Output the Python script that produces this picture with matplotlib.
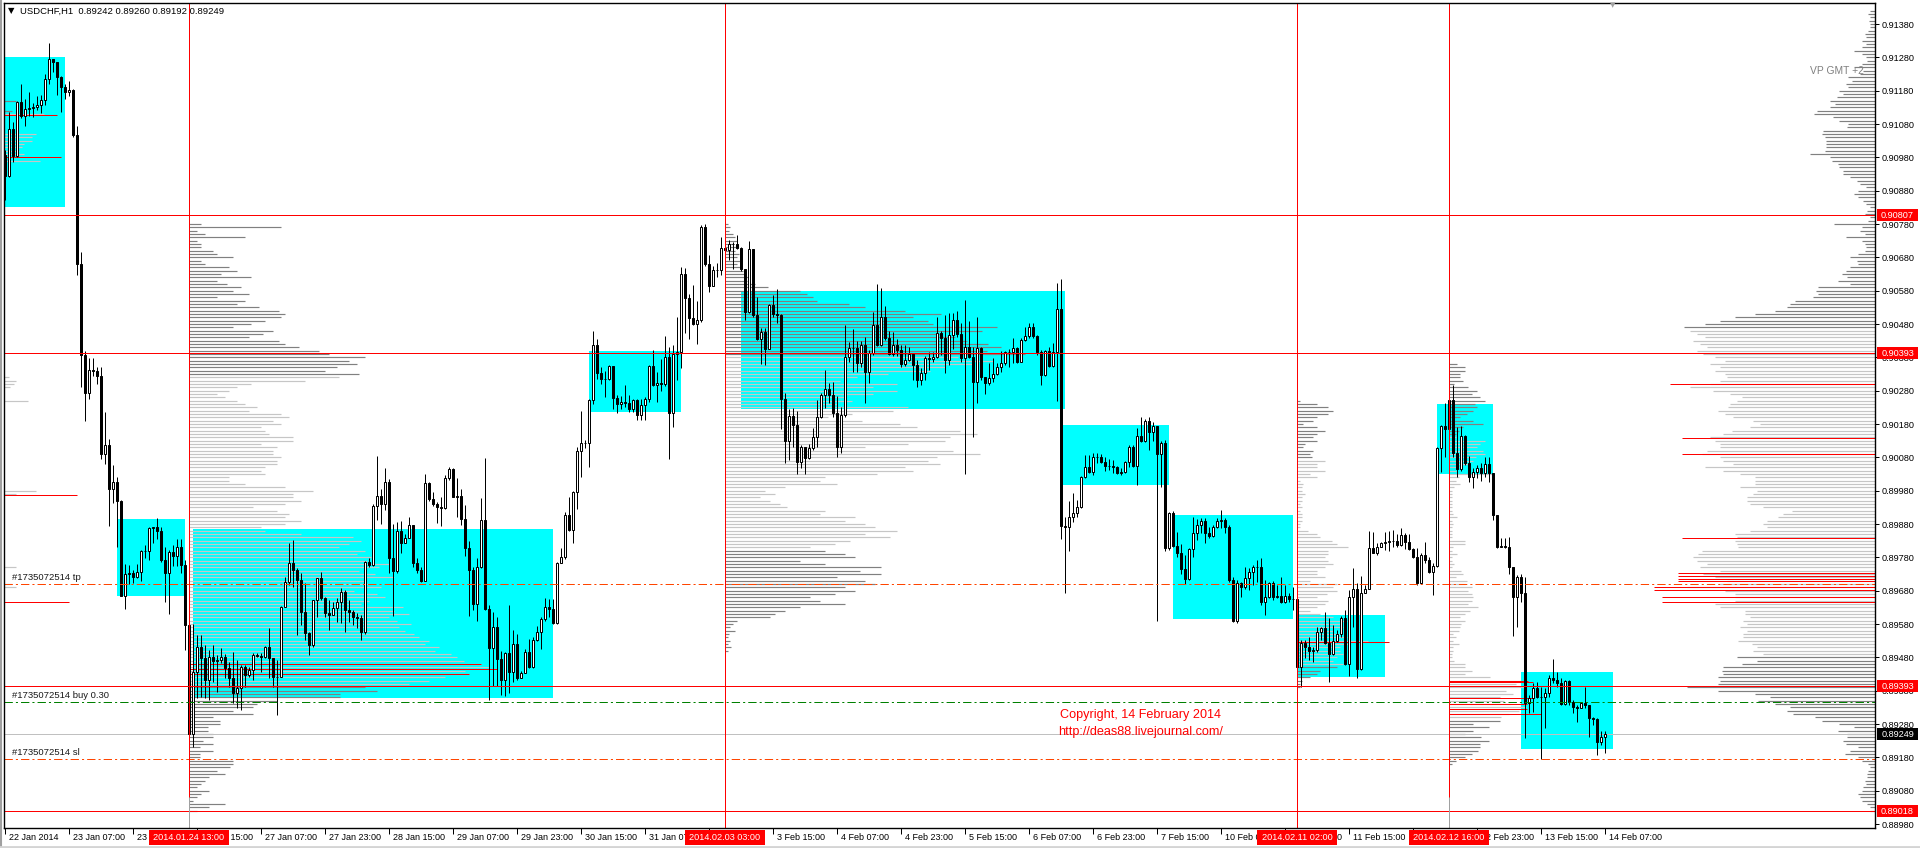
import matplotlib
matplotlib.use("Agg")
import matplotlib.pyplot as plt
from matplotlib import font_manager
from matplotlib.patches import Rectangle
from matplotlib.transforms import blended_transform_factory
import numpy as np

plt.rcParams["lines.scale_dashes"] = False

W, H = 1920, 848


def pick_font(*names):
    avail = {f.name for f in font_manager.fontManager.ttflist}
    for n in names:
        if n in avail:
            return n
    return "DejaVu Sans"


SANS = pick_font("Liberation Sans", "DejaVu Sans")

# ---------------------------------------------------------------- data
# USDCHF H1, prices in points (1 point = 0.00001); bar 0 = 22 Jan 2014 15:00
first_open = 90987
close = [
    90924, 91064, 90983, 91147, 91104, 91124, 91127, 91130, 91138, 91151,
    91215, 91274, 91265, 91222, 91192, 91175, 91181, 91046, 90659, 90386,
    90274, 90343, 90340, 90323, 90091, 90116, 89984, 90007, 89950, 89665,
    89729, 89732, 89722, 89735, 89798, 89798, 89867, 89870, 89860, 89772,
    89734, 89795, 89783, 89812, 89757, 89577, 89250, 89436, 89512, 89478,
    89412, 89481, 89469, 89472, 89481, 89448, 89418, 89373, 89388, 89451,
    89427, 89442, 89487, 89484, 89481, 89511, 89478, 89421, 89421, 89631,
    89706, 89763, 89742, 89712, 89616, 89553, 89517, 89652, 89718, 89658,
    89613, 89607, 89628, 89646, 89676, 89622, 89616, 89601, 89598, 89556,
    89766, 89757, 89933, 89964, 89941, 90007, 89778, 89738, 89858, 89823,
    89839, 89877, 89763, 89742, 89709, 90003, 89955, 89940, 89930, 89928,
    90018, 90044, 89962, 89964, 89896, 89808, 89742, 89641, 89750, 89891,
    89626, 89509, 89570, 89474, 89411, 89492, 89435, 89519, 89418, 89433,
    89496, 89451, 89531, 89557, 89595, 89631, 89626, 89583, 89763, 89780,
    89908, 89861, 89975, 90100, 90124, 90122, 90252, 90418, 90333, 90315,
    90315, 90353, 90259, 90239, 90246, 90244, 90224, 90251, 90206, 90236,
    90256, 90353, 90297, 90303, 90300, 90381, 90212, 90391, 90396, 90631,
    90558, 90499, 90479, 90492, 90771, 90659, 90594, 90643, 90643, 90708,
    90702, 90720, 90720, 90708, 90644, 90517, 90705, 90507, 90436, 90455,
    90404, 90536, 90509, 90506, 90256, 90128, 90203, 90178, 90067, 90110,
    90077, 90107, 90142, 90202, 90267, 90284, 90267, 90214, 90110, 90207,
    90380, 90407, 90407, 90364, 90417, 90337, 90392, 90477, 90417, 90500,
    90437, 90390, 90417, 90402, 90360, 90372, 90390, 90357, 90312, 90334,
    90377, 90374, 90380, 90454, 90437, 90372, 90447, 90492, 90450, 90377,
    90412, 90380, 90307, 90407, 90320, 90304, 90317, 90330, 90350, 90364,
    90397, 90397, 90407, 90367, 90432, 90444, 90472, 90444, 90397, 90327,
    90400, 90354, 90397, 90524, 89874, 89870, 89902, 89914, 89932, 90022,
    90052, 90037, 90082, 90080, 90067, 90054, 90055, 90052, 90032, 90035,
    90067, 90110, 90054, 90144, 90130, 90190, 90157, 90174, 90090, 90124,
    89807, 89912, 89814, 89794, 89744, 89714, 89804, 89852, 89877, 89890,
    89854, 89845, 89872, 89890, 89892, 89872, 89712, 89590, 89704, 89692,
    89717, 89737, 89750, 89752, 89647, 89662, 89702, 89662, 89664, 89647,
    89665, 89654, 89654, 89452, 89524, 89510, 89500, 89502, 89557, 89567,
    89524, 89490, 89530, 89550, 89597, 89460, 89662, 89684, 89444, 89674,
    89684, 89807, 89794, 89812, 89822, 89827, 89830, 89830, 89817, 89847,
    89827, 89804, 89782, 89704, 89787, 89772, 89737, 89754, 90107, 90174,
    90164, 90252, 90094, 90044, 90144, 90064, 90022, 90037, 90047, 90032,
    90060, 90034, 89907, 89810, 89814, 89812, 89750, 89662, 89722, 89672,
    89342, 89357, 89387, 89362, 89360, 89372, 89417, 89412, 89402, 89340,
    89410, 89347, 89332, 89327, 89342, 89337, 89297, 89294, 89227, 89242,
    89249,
]
high = [
    91002, 91115, 91087, 91150, 91201, 91155, 91176, 91144, 91163, 91167,
    91230, 91322, 91275, 91266, 91224, 91201, 91209, 91184, 91073, 90696,
    90400, 90377, 90377, 90352, 90350, 90216, 90134, 90057, 90021, 89952,
    89760, 89757, 89743, 89759, 89803, 89818, 89872, 89872, 89899, 89870,
    89812, 89801, 89818, 89835, 89835, 89772, 89580, 89580, 89547, 89547,
    89517, 89502, 89517, 89487, 89508, 89490, 89466, 89496, 89472, 89457,
    89457, 89451, 89493, 89493, 89493, 89514, 89568, 89478, 89472, 89634,
    89721, 89823, 89832, 89748, 89733, 89703, 89556, 89652, 89718, 89736,
    89661, 89652, 89646, 89658, 89688, 89682, 89652, 89622, 89613, 89607,
    89769, 89778, 89939, 90085, 89984, 90047, 90016, 89881, 89887, 89889,
    89849, 89901, 89877, 89778, 89752, 90031, 90006, 89975, 89945, 89960,
    90026, 90051, 90047, 90019, 89986, 89938, 89828, 89752, 89778, 89958,
    90079, 89636, 89616, 89600, 89499, 89496, 89638, 89563, 89550, 89438,
    89504, 89535, 89540, 89573, 89600, 89658, 89656, 89656, 89766, 89808,
    89915, 89960, 89978, 90112, 90219, 90133, 90254, 90459, 90434, 90350,
    90340, 90358, 90350, 90266, 90264, 90297, 90266, 90254, 90256, 90254,
    90262, 90358, 90401, 90335, 90374, 90445, 90411, 90416, 90502, 90651,
    90649, 90570, 90598, 90550, 90776, 90781, 90688, 90654, 90664, 90740,
    90725, 90732, 90725, 90748, 90712, 90644, 90728, 90705, 90560, 90469,
    90467, 90540, 90566, 90586, 90509, 90272, 90226, 90229, 90219, 90117,
    90112, 90120, 90167, 90252, 90272, 90342, 90304, 90307, 90264, 90232,
    90477, 90427, 90464, 90430, 90430, 90442, 90402, 90517, 90600, 90587,
    90534, 90460, 90457, 90434, 90417, 90417, 90410, 90394, 90372, 90347,
    90384, 90397, 90397, 90500, 90460, 90507, 90512, 90512, 90520, 90484,
    90552, 90490, 90410, 90500, 90410, 90322, 90362, 90377, 90364, 90400,
    90400, 90404, 90437, 90412, 90437, 90472, 90484, 90482, 90447, 90402,
    90402, 90412, 90422, 90604, 90614, 89902, 89950, 89972, 89952, 90024,
    90087, 90087, 90092, 90092, 90090, 90080, 90074, 90072, 90054, 90047,
    90070, 90117, 90117, 90167, 90202, 90194, 90202, 90187, 90174, 90130,
    90132, 89917, 89920, 89857, 89820, 89787, 89807, 89900, 89894, 89897,
    89897, 89870, 89877, 89897, 89922, 89897, 89877, 89722, 89712, 89707,
    89752, 89747, 89757, 89772, 89777, 89712, 89707, 89710, 89697, 89722,
    89697, 89672, 89690, 89657, 89532, 89532, 89542, 89512, 89572, 89572,
    89617, 89597, 89577, 89562, 89604, 89622, 89682, 89747, 89702, 89724,
    89697, 89860, 89857, 89822, 89827, 89857, 89860, 89862, 89850, 89867,
    89854, 89850, 89807, 89807, 89794, 89827, 89780, 89762, 90110, 90177,
    90242, 90254, 90297, 90172, 90174, 90147, 90084, 90047, 90057, 90062,
    90080, 90080, 90010, 89907, 89837, 89837, 89840, 89730, 89727, 89730,
    89720, 89367, 89402, 89407, 89390, 89387, 89427, 89474, 89437, 89417,
    89412, 89412, 89352, 89337, 89347, 89390, 89337, 89302, 89297, 89260,
    89260,
]
low = [
    90852, 90920, 90966, 90981, 91098, 91075, 91104, 91100, 91121, 91112,
    91138, 91201, 91236, 91167, 91115, 91155, 91165, 91040, 90627, 90292,
    90189, 90254, 90323, 90300, 90074, 90059, 89875, 89944, 89812, 89663,
    89626, 89699, 89703, 89718, 89709, 89778, 89772, 89824, 89835, 89766,
    89646, 89611, 89755, 89755, 89732, 89502, 89247, 89211, 89358, 89361,
    89358, 89352, 89406, 89376, 89463, 89418, 89391, 89343, 89328, 89322,
    89391, 89421, 89412, 89481, 89436, 89478, 89418, 89391, 89307, 89421,
    89631, 89697, 89691, 89547, 89577, 89532, 89487, 89511, 89601, 89652,
    89601, 89562, 89607, 89586, 89583, 89556, 89586, 89577, 89568, 89532,
    89550, 89751, 89755, 89892, 89881, 89921, 89734, 89605, 89732, 89793,
    89823, 89839, 89752, 89732, 89707, 89709, 89950, 89935, 89884, 89874,
    89925, 90011, 89960, 89900, 89876, 89783, 89605, 89621, 89590, 89747,
    89621, 89352, 89393, 89393, 89367, 89364, 89374, 89405, 89413, 89418,
    89433, 89448, 89448, 89530, 89504, 89590, 89600, 89580, 89580, 89763,
    89776, 89859, 89823, 89925, 90021, 90107, 90051, 90239, 90315, 90300,
    90262, 90313, 90226, 90212, 90224, 90232, 90216, 90216, 90191, 90191,
    90191, 90246, 90295, 90246, 90279, 90295, 90074, 90171, 90313, 90347,
    90452, 90436, 90477, 90421, 90487, 90654, 90576, 90621, 90621, 90627,
    90690, 90672, 90644, 90705, 90639, 90492, 90512, 90502, 90431, 90361,
    90356, 90404, 90502, 90482, 90165, 90064, 90072, 90112, 90031, 90047,
    90029, 90074, 90102, 90112, 90197, 90227, 90242, 90202, 90082, 90094,
    90202, 90367, 90337, 90337, 90352, 90242, 90304, 90387, 90414, 90414,
    90432, 90387, 90384, 90384, 90350, 90354, 90370, 90312, 90292, 90297,
    90312, 90342, 90367, 90377, 90387, 90332, 90357, 90404, 90442, 90367,
    90030, 90377, 90140, 90242, 90312, 90270, 90297, 90307, 90327, 90337,
    90357, 90350, 90362, 90364, 90367, 90430, 90437, 90437, 90387, 90297,
    90324, 90350, 90350, 90250, 89834, 89672, 89800, 89887, 89902, 89927,
    90017, 90032, 90027, 90064, 90062, 90040, 90042, 90032, 90030, 90027,
    90034, 90052, 90052, 89997, 90127, 90127, 90102, 90130, 89590, 89992,
    89800, 89802, 89812, 89780, 89730, 89700, 89712, 89780, 89832, 89852,
    89822, 89837, 89842, 89867, 89867, 89852, 89707, 89587, 89584, 89662,
    89684, 89682, 89697, 89707, 89637, 89607, 89657, 89652, 89657, 89642,
    89644, 89647, 89622, 89392, 89392, 89477, 89472, 89467, 89497, 89532,
    89520, 89407, 89487, 89527, 89542, 89457, 89424, 89572, 89417, 89442,
    89672, 89684, 89792, 89787, 89812, 89802, 89800, 89812, 89812, 89814,
    89804, 89802, 89777, 89697, 89704, 89762, 89734, 89667, 89752, 90037,
    90082, 90157, 90082, 90022, 90040, 90057, 90007, 89987, 90017, 90010,
    90022, 90007, 89892, 89807, 89810, 89807, 89730, 89544, 89572, 89647,
    89237, 89312, 89317, 89357, 89174, 89267, 89362, 89402, 89392, 89337,
    89337, 89337, 89312, 89287, 89327, 89327, 89242, 89277, 89187, 89217,
    89192,
]

# time axis labels every 16 bars
time_labels = [
    "22 Jan 2014", "23 Jan 07:00", "23 Jan 23:00", "24 Jan 15:00",
    "27 Jan 07:00", "27 Jan 23:00", "28 Jan 15:00", "29 Jan 07:00",
    "29 Jan 23:00", "30 Jan 15:00", "31 Jan 07:00", "31 Jan 23:00",
    "3 Feb 15:00", "4 Feb 07:00", "4 Feb 23:00", "5 Feb 15:00",
    "6 Feb 07:00", "6 Feb 23:00", "7 Feb 15:00", "10 Feb 07:00",
    "10 Feb 23:00", "11 Feb 15:00", "12 Feb 07:00", "12 Feb 23:00",
    "13 Feb 15:00", "14 Feb 07:00",
]
label_step = 16

# vertical markers: bar index and caption
vline_bars = [46, 180, 323, 361]
vline_text = ["2014.01.24 13:00", "2014.02.03 03:00", "2014.02.11 02:00", "2014.02.12 16:00"]

# session rectangles: (left bar, right bar, top, bottom) in points
box_left = [-0.25, 28, 47, 146, 184, 264, 292, 323, 358, 379]
box_right = [15, 45, 137, 169, 265, 291, 322, 345, 372, 402]
box_top = [91281, 89895, 89866, 90399, 90579, 90177, 89907, 89607, 90240, 89436]
box_bottom = [90831, 89664, 89357, 90216, 90225, 89997, 89595, 89422, 90030, 89205]

# horizontal levels
red_levels = [90807, 90393, 89393, 89018]
tp_level, buy_level, sl_level, bid_level = 89700, 89347, 89175, 89249
order_id = "#1735072514"

# ---- volume profiles: one row per pip (10 points), top row first, lengths in px
# profile from 24 Jan 13:00
vp_b_start, vp_b_top, vp_b_va = 46, 90780, (89395, 90320)
vp_b = [
    12, 92, 8, 16, 56, 8, 12, 12, 24, 28, 44, 12, 16, 40, 48, 32, 62, 28, 38, 52,
    44, 60, 28, 56, 48, 70, 90, 96, 92, 76, 62, 44, 84, 74, 60, 90, 96, 110, 130, 140,
    176, 160, 168, 148, 136, 170, 150, 116, 62, 48, 40, 28, 36, 48, 56, 68, 60, 92, 100, 84,
    92, 72, 76, 80, 104, 104, 72, 88, 84, 84, 92, 88, 88, 76, 72, 76, 40, 40, 56, 96,
    124, 104, 104, 112, 96, 64, 88, 100, 96, 112, 96, 72, 76, 112, 164, 172, 160, 150, 176, 168,
    182, 178, 200, 190, 170, 186, 205, 175, 180, 192, 165, 188, 196, 180, 172, 214, 205, 220, 200, 208,
    222, 210, 216, 225, 230, 240, 236, 250, 246, 262, 268, 275, 292, 300, 276, 280, 256, 240, 220, 176,
    188, 151, 151, 88, 68, 64, 44, 64, 24, 31, 31, 19, 19, 24, 24, 14, 24, 11, 24, 11,
    11, 44, 44, 41, 28, 36, 20, 16, 12, 8, 20, 12, 8, 4, 36, 20, 8,
]
# profile from 3 Feb 03:00
vp_c_start, vp_c_top, vp_c_va = 180, 90780, (89810, 90380)
vp_c = [
    3, 5, 4, 8, 10, 12, 8, 12, 10, 14, 12, 15, 12, 15, 18, 20, 25, 22, 30, 43,
    75, 82, 88, 92, 124, 140, 180, 216, 188, 203, 208, 272, 257, 215, 230, 242, 263, 276, 262, 300,
    233, 268, 248, 220, 205, 163, 132, 115, 172, 148, 172, 148, 120, 127, 112, 183, 168, 127, 103, 137,
    175, 192, 235, 252, 225, 220, 183, 140, 228, 255, 212, 203, 215, 180, 188, 152, 100, 95, 112, 60,
    40, 50, 35, 45, 55, 62, 100, 95, 130, 120, 140, 150, 172, 140, 165, 125, 110, 85, 100, 120,
    130, 75, 100, 156, 135, 156, 112, 140, 150, 120, 130, 110, 85, 95, 120, 75, 60, 50, 45, 12,
    8, 5, 10, 4, 3, 5, 3, 6, 3,
]
# profile from 11 Feb 02:00
vp_d_start, vp_d_top, vp_d_va = 323, 90250, (89460, 90070)
vp_d = [
    3, 20, 31, 36, 31, 20, 16, 6, 20, 28, 20, 16, 20, 8, 6, 16, 13, 15, 28, 20,
    20, 28, 13, 20, 3, 6, 5, 5, 8, 5, 5, 3, 5, 3, 5, 5, 5, 3, 3, 11,
    20, 23, 35, 40, 51, 31, 31, 28, 31, 36, 28, 20, 20, 28, 13, 40, 36, 40, 30, 20,
    31, 28, 20, 13, 23, 36, 50, 43, 46, 36, 43, 50, 71, 53, 43, 43, 46, 40, 36, 46,
    40, 23, 20, 13, 5, 3, 3,
]
# profile from 12 Feb 16:00
vp_e_start, vp_e_top, vp_e_va = 361, 90360, (89300, 90140)
vp_e = [
    8, 16, 16, 11, 11, 14, 5, 19, 28, 23, 31, 36, 26, 28, 24, 18, 11, 24, 34, 14,
    10, 7, 7, 36, 31, 28, 34, 36, 27, 24, 19, 10, 7, 43, 10, 7, 11, 5, 3, 3,
    3, 3, 3, 3, 3, 4, 8, 3, 4, 3, 3, 3, 3, 16, 16, 4, 3, 8, 3, 3,
    5, 3, 12, 14, 7, 18, 16, 23, 19, 23, 24, 23, 19, 29, 21, 16, 11, 16, 12, 11,
    10, 4, 7, 4, 10, 4, 4, 3, 3, 5, 16, 16, 23, 16, 41, 79, 67, 77, 57, 64,
    51, 55, 61, 77, 70, 60, 52, 51, 24, 40, 24, 16, 32, 40, 31, 31, 29, 23, 16, 7,
    3,
]
# session profile on the right edge ("VP GMT +2"), drawn leftward
vp_f_top, vp_f_va = 91420, (89490, 90460)
vp_f = [
    5, 7, 5, 6, 5, 5, 7, 10, 9, 13, 9, 13, 21, 13, 9, 8, 13, 21, 12, 15,
    27, 23, 29, 27, 36, 32, 38, 45, 40, 45, 58, 61, 42, 36, 27, 28, 52, 53, 50, 49,
    49, 49, 50, 65, 45, 43, 37, 36, 32, 32, 25, 18, 15, 9, 17, 21, 17, 12, 9, 5,
    8, 10, 5, 7, 41, 13, 15, 10, 29, 13, 10, 9, 10, 17, 25, 18, 17, 25, 29, 33,
    28, 37, 25, 57, 59, 57, 62, 80, 85, 88, 100, 120, 140, 155, 170, 191, 185, 178, 170, 182,
    175, 168, 178, 172, 160, 150, 165, 155, 160, 150, 148, 155, 165, 185, 162, 145, 133, 138, 145, 147,
    157, 150, 142, 122, 115, 125, 143, 152, 165, 160, 155, 155, 168, 173, 155, 152, 142, 170, 152, 135,
    120, 120, 120, 135, 118, 122, 128, 128, 125, 112, 83, 92, 97, 108, 112, 108, 125, 140, 138, 140,
    138, 137, 173, 177, 182, 178, 168, 175, 155, 172, 160, 148, 155, 188, 150, 140, 140, 140, 160, 155,
    130, 130, 125, 132, 128, 135, 128, 132, 132, 137, 123, 118, 122, 112, 138, 118, 133, 152, 153, 152,
    157, 155, 157, 188, 157, 120, 105, 117, 100, 85, 88, 82, 60, 53, 36, 21, 37, 28, 28, 32,
    29, 17, 25, 30, 17, 13, 7, 5, 7, 8, 8, 10, 9, 12, 13, 17, 15, 13, 8, 5,
    5,
]
# remnant rows of the profile that began before the first bar: (price, px, dark?)
vp_pre_price = [91150, 91120, 91110, 91050, 91040, 91030, 91020, 91010, 91000, 90990,
                90970, 90320, 90310, 90300, 90290, 90250, 89980, 89970, 89750, 89700, 89690]
vp_pre_len = [12, 8, 40, 32, 28, 28, 20, 18, 15, 20, 36, 5, 12, 10, 6, 24, 32, 12, 12, 8, 12]
vp_pre_dark = [1, 1, 0, 0, 0, 0, 0, 0, 0, 0, 0, 0, 0, 0, 0, 0, 0, 0, 0, 0, 0]

# red peak rows: (start bar, price, length px)
poc_start = [-0.25, -0.25, -0.25, -0.25, 46, 46, 46, 180, 323,
             361, 361, 361, 361, 361, 361]
poc_price = [91106, 90980, 89966, 89646, 89460, 89445, 89430, 90393, 89526,
             89410, 89405, 89357, 89340, 89324, 89309]
poc_len = [53, 57, 73, 65, 292, 308, 280, 344, 92,
           79, 84, 85, 78, 78, 92]
# right-hand profile peaks, measured leftward from the right edge (px)
rpoc_price = [90299, 90137, 90090, 89837, 89733, 89724, 89715, 89709,
              89691, 89682, 89661, 89646]
rpoc_len = [205, 193, 193, 193, 197, 197, 197, 197, 221, 221, 213, 213]

# ---------------------------------------------------------------- figure
P = 1e-5
BAR_PX = 4.0
fig = plt.figure(figsize=(W / 100, H / 100), dpi=100)
fig.patch.set_facecolor("white")
ax = fig.add_axes([4 / W, 20 / H, 1871 / W, 825 / H])
X0, X1 = -0.25, 467.5
Y0, Y1 = 88968 * P, 91443 * P
ax.set_xlim(X0, X1)
ax.set_ylim(Y0, Y1)
ax.set_facecolor("white")
for s in ax.spines.values():
    s.set_color("black")
    s.set_linewidth(1.0)
    s.set_zorder(8)

LW = 0.72  # one pixel
ROW_LW = 0.85
DARK, LIGHT = "#808080", "#C6C6C6"

# session rectangles
for l, r, t, b in zip(box_left, box_right, box_top, box_bottom):
    ax.add_patch(Rectangle((l, b * P), r - l, (t - b) * P, facecolor="#00FFFF",
                           edgecolor="none", zorder=1))


def hrows(y, xa, xb, colors, z, lw=ROW_LW):
    ax.hlines(y, xa, xb, colors=colors, lw=lw, zorder=z, snap=True)


def draw_profile(start, top, vols, va, leftward=False):
    prices = top - 10 * np.arange(len(vols))
    lens = np.array(vols, float) / BAR_PX
    cols = [LIGHT if va[0] <= p <= va[1] else DARK for p in prices]
    if leftward:
        x_a, x_b = X1 - lens, np.full_like(lens, X1)
    else:
        x_a, x_b = np.full_like(lens, start), start + lens
    hrows(prices * P, x_a, x_b, cols, 2)


draw_profile(vp_b_start, vp_b_top, vp_b, vp_b_va)
draw_profile(vp_c_start, vp_c_top, vp_c, vp_c_va)
draw_profile(vp_d_start, vp_d_top, vp_d, vp_d_va)
draw_profile(vp_e_start, vp_e_top, vp_e, vp_e_va)
draw_profile(None, vp_f_top, vp_f, vp_f_va, leftward=True)
hrows(np.array(vp_pre_price) * P, X0, X0 + np.array(vp_pre_len) / BAR_PX,
      [DARK if d else LIGHT for d in vp_pre_dark], 2)

# profile peak rows
for s, p, n in zip(poc_start, poc_price, poc_len):
    hrows(p * P, s, s + n / BAR_PX, "#FF0000", 2.5, LW)
for p, n in zip(rpoc_price, rpoc_len):
    hrows(p * P, X1 - n / BAR_PX, X1, "#FF0000", 2.5, LW)

# candles
c = np.array(close, float)
o = np.concatenate([[first_open], c[:-1]])
hi = np.maximum.reduce([np.array(high, float), o, c])
lo = np.minimum.reduce([np.array(low, float), o, c])
x = np.arange(len(c))
ax.vlines(x, lo * P, hi * P, colors="black", lw=LW, zorder=3)
up = c >= o
body_bot = np.minimum(o, c) * P
body_h = np.abs(c - o) * P
ax.bar(x[up], body_h[up], bottom=body_bot[up], width=0.58, color="white",
       edgecolor="black", linewidth=LW, zorder=3.2)
ax.bar(x[~up], body_h[~up], bottom=body_bot[~up], width=0.58, color="black",
       edgecolor="black", linewidth=LW, zorder=3.2)

# horizontal levels
for lv in red_levels:
    ax.axhline(lv * P, color="#FF0000", lw=LW, zorder=4)
ax.axhline(bid_level * P, color="#C0C0C0", lw=LW, zorder=2.8)
dd = (0, (6, 2.2, 1.5, 2.2))
ax.axhline(tp_level * P, color="#FF4500", lw=LW, ls=dd, zorder=4)
ax.axhline(sl_level * P, color="#FF4500", lw=LW, ls=dd, zorder=4)
ax.axhline(buy_level * P, color="#008000", lw=LW, ls=dd, zorder=4)
for b in vline_bars:
    ax.axvline(b, color="#FF0000", lw=LW, zorder=4)
for b in (46, 361):
    ax.vlines(b, Y0, 89060 * P, colors="#A0A0A0", lw=LW, zorder=4.1)

# order captions
cap_kw = dict(fontsize=6.8, family=SANS, color="#1a1a1a", zorder=5,
              ha="left", va="bottom")
ax.text(1.75, tp_level * P + 5 * P, f"{order_id} tp", **cap_kw)
ax.text(1.75, buy_level * P + 5 * P, f"{order_id} buy 0.30", **cap_kw)
ax.text(1.75, sl_level * P + 5 * P, f"{order_id} sl", **cap_kw)

# copyright note
ax.text(284, 89307 * P, "Copyright, 14 February 2014", color="#FF0000",
        fontsize=9.1, family=SANS, ha="center", va="center", zorder=5)
ax.text(284, 89256 * P, "http://deas88.livejournal.com/", color="#FF0000",
        fontsize=9.1, family=SANS, ha="center", va="center", zorder=5)

# ---------------------------------------------------------------- axes text
yt = [88980 + 100 * k for k in range(25)]
ax.yaxis.tick_right()
ax.set_yticks([v * P for v in yt])
ax.set_yticklabels([f"{v * P:.5f}" for v in yt])
ax.tick_params(axis="y", length=3, width=LW, pad=2, labelsize=6.6)
for t in ax.get_yticklabels():
    t.set_family(SANS)

tick_bars = [label_step * k for k in range(len(time_labels))]
ax.set_xticks(tick_bars)
ax.set_xticklabels([])
ax.tick_params(axis="x", length=4, width=LW, direction="out")
xt = blended_transform_factory(ax.transData, fig.transFigure)
for b, s in zip(tick_bars, time_labels):
    ax.text(b + 0.9, 1 - 837 / H, s, transform=xt, fontsize=6.5, family=SANS,
            ha="left", va="center", clip_on=False)
for b, s in zip(vline_bars, vline_text):
    ax.add_patch(Rectangle((b - 10.1, 1 - 845 / H), 20.2, 15 / H, transform=xt,
                           facecolor="#FF0000", edgecolor="none", clip_on=False,
                           zorder=6))
    ax.text(b, 1 - 837.5 / H, s, transform=xt, fontsize=6.6, family=SANS,
            color="white", ha="center", va="center", clip_on=False, zorder=7)

yt_fig = blended_transform_factory(fig.transFigure, ax.transData)
for lv, fc in [(v, "#FF0000") for v in red_levels] + [(bid_level, "#000000")]:
    ax.add_patch(Rectangle((1877 / W, lv * P - 18 * P), 41 / W, 36 * P,
                           transform=yt_fig, facecolor=fc, edgecolor="none",
                           clip_on=False, zorder=6))
    ax.text(1897.5 / W, lv * P, f"{lv * P:.5f}", transform=yt_fig, color="white",
            fontsize=6.6, family=SANS, ha="center", va="center", clip_on=False,
            zorder=7)

# header and captions
fig.text(8 / W, 1 - 11 / H, "\u25BC", fontsize=6, family="DejaVu Sans",
         va="center", ha="left")
fig.text(20 / W, 1 - 11 / H,
         "USDCHF,H1  0.89242 0.89260 0.89192 0.89249",
         fontsize=6.8, family=SANS, va="center", ha="left")
fig.text(1864 / W, 1 - 71 / H, "VP GMT +2", fontsize=7.4, family=SANS,
         color="#808080", va="center", ha="right")
fig.text(1613 / W, 1 - 5 / H, "\u25BC", fontsize=5, family="DejaVu Sans",
         color="#A0A0A0", va="center", ha="center")

# window frame
fig.add_artist(plt.Line2D([1 / W, 1 / W], [0, 1], color="#A0A0A0", lw=1.5))
fig.add_artist(plt.Line2D([0, 1], [1.5 / H, 1.5 / H], color="#D4D4D4", lw=2))

fig.savefig("out.png", dpi=100)
